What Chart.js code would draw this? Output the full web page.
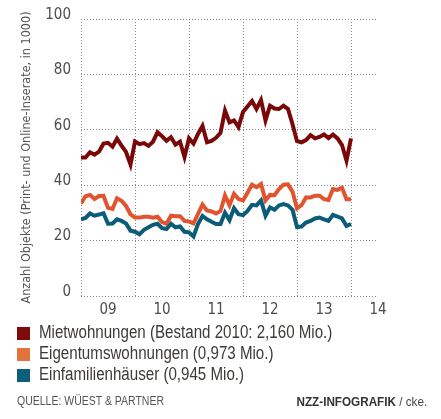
<!DOCTYPE html>
<html>
<head>
<meta charset="utf-8">
<script src="https://cdn.jsdelivr.net/npm/chart.js@4"></script>
<style>
  html, body { margin: 0; padding: 0; background: #ffffff; }
  body { width: 441px; height: 419px; position: relative; overflow: hidden;
         font-family: "Liberation Sans", Arial, sans-serif; }
  #wrap { position: absolute; left: 0; top: 0; width: 441px; height: 325px; }
  #legend { position: absolute; left: 17px; top: 324px; }
  .row { position: relative; height: 21px; }
  .sw { position: absolute; left: 0; top: 3px; width: 13px; height: 13px; }
  .lt { position: absolute; left: 22px; top: -2px; font-size: 18px; line-height: 21px; color: #3e3a37;
        white-space: nowrap; transform: scaleX(0.84); transform-origin: left center; }
  #src { position: absolute; left: 17px; top: 394px; font-size: 12.5px; color: #555; line-height: 15px;
         white-space: nowrap; transform: scaleX(0.84); transform-origin: left center; }
  #credit { position: absolute; right: 14px; top: 394px; font-size: 13px; color: #444; line-height: 15px;
            white-space: nowrap; transform: scaleX(0.9); transform-origin: right center; }
  #credit b { color: #333; }
</style>
</head>
<body>
<div id="wrap"><canvas id="c" width="441" height="325"></canvas></div>
<div id="legend"></div>
<div id="src">QUELLE: WÜEST &amp; PARTNER</div>
<div id="credit"><b>NZZ-INFOGRAFIK</b> / cke.</div>
<script>
// Monthly values, Jan 2009 .. Jan 2014 (in 1000 listings)
const monthIndex = Array.from({length: 61}, (_, i) => i);
const mietwohnungen = [50.0,50.0,51.9,51.0,52.1,55.0,55.3,53.9,56.8,54.3,52.0,47.5,
  55.8,54.8,55.2,54.2,55.7,59.1,57.7,56.0,57.3,54.6,55.7,50.2,
  56.9,55.0,58.5,61.4,55.5,56.0,57.1,58.9,66.9,62.7,63.4,61.0,
  66.4,68.4,70.4,67.5,70.7,63.4,68.7,67.7,67.5,68.7,67.5,62.0,
  55.9,55.5,56.3,58.1,56.9,57.4,58.3,57.0,58.3,56.9,54.5,48.9,
  56.9];
const eigentumswohnungen = [33.4,36.0,36.5,35.0,36.1,36.2,31.8,31.4,35.3,34.4,32.5,29.5,
  28.3,28.3,28.6,28.6,28.3,28.6,26.7,26.1,29.0,28.8,28.8,27.1,
  26.9,26.2,29.6,33.0,30.9,30.5,29.8,30.7,36.3,32.8,36.9,35.0,
  34.5,37.3,40.2,39.3,40.4,34.5,36.5,36.4,38.6,40.2,40.3,37.7,
  31.6,32.8,35.6,35.6,36.2,36.2,35.0,34.7,38.6,38.3,39.1,34.9,
  34.9];
const einfamilienhaeuser = [27.7,28.2,29.8,29.0,29.4,29.9,26.1,26.2,27.7,27.1,26.2,23.6,
  23.2,22.3,23.9,24.8,25.7,26.1,24.5,24.2,26.1,24.8,25.1,23.2,
  23.0,21.5,26.0,28.9,27.7,26.8,26.0,26.0,30.1,27.4,31.7,29.5,
  29.2,30.7,32.9,32.7,34.5,29.0,32.0,31.1,32.7,33.2,32.7,31.1,
  24.9,25.1,26.5,27.1,28.0,28.3,27.7,27.1,29.3,28.7,28.0,25.3,
  26.0];
const yearLabels = ['09','10','11','12','13','14'];
const seriesLabels = ['Mietwohnungen (Bestand 2010: 2,160 Mio.)',
                      'Eigentumswohnungen (0,973 Mio.)',
                      'Einfamilienhäuser (0,945 Mio.)'];
const yTitle = 'Anzahl Objekte (Print- und Online-Inserate, in 1000)';

const lineColors = ['#7a0808', '#e0542f', '#0b5c78'];
const swatchColors = ['#7e0c0c', '#e2733f', '#0c5e7b'];
const FONT = '"DejaVu Sans Condensed", "Liberation Sans", sans-serif';

const toPts = arr => arr.map((v, i) => ({x: monthIndex[i], y: v}));
const series = [mietwohnungen, eigentumswohnungen, einfamilienhaeuser];

// HTML legend
const leg = document.getElementById('legend');
seriesLabels.forEach((t, i) => {
  const r = document.createElement('div'); r.className = 'row';
  const s = document.createElement('div'); s.className = 'sw'; s.style.background = swatchColors[i];
  const l = document.createElement('div'); l.className = 'lt'; l.textContent = t;
  r.appendChild(s); r.appendChild(l); leg.appendChild(r);
});

new Chart(document.getElementById('c'), {
  type: 'line',
  data: {
    datasets: series.map((d, i) => ({
      label: seriesLabels[i],
      data: toPts(d),
      borderColor: lineColors[i],
      borderWidth: 4,
      pointRadius: 0,
      tension: 0,
      fill: false
    })).reverse()
  },
  options: {
    responsive: false,
    animation: false,
    layout: { padding: { left: 0, right: 63, top: 16, bottom: 0 } },
    plugins: { legend: { display: false }, tooltip: { enabled: false } },
    scales: {
      x: {
        type: 'linear', min: 0, max: 66,
        afterBuildTicks: s => { const t = []; for (let v = 0; v <= 66; v += 6) t.push({value: v}); s.ticks = t; },
        afterFit: s => { s.height = 29; },
        grid: { color: c => (c.tick && c.tick.value % 12 === 0 && c.tick.value < 66) ? '#8a8a8a' : 'rgba(0,0,0,0)', lineWidth: 1, drawTicks: false },
        border: { display: false, dash: [1, 2] },
        ticks: {
          autoSkip: false, maxRotation: 0, padding: 5, color: '#4d4d4d',
          font: { family: FONT, size: 15 },
          callback: v => (v % 12 === 6) ? yearLabels[(v - 6) / 12] : ''
        }
      },
      y: {
        min: 0, max: 100,
        afterFit: s => { s.width = 81; },
        grid: { color: '#8a8a8a', lineWidth: 1, drawTicks: false },
        border: { display: false, dash: [1, 2] },
        ticks: { stepSize: 20, padding: 10, labelOffset: -4, color: '#4d4d4d', font: { family: FONT, size: 15 } },
        title: { display: true, text: yTitle, color: '#555', font: { family: FONT, size: 12.5 }, padding: { top: 19, bottom: 0 } }
      }
    }
  }
});
</script>
</body>
</html>
